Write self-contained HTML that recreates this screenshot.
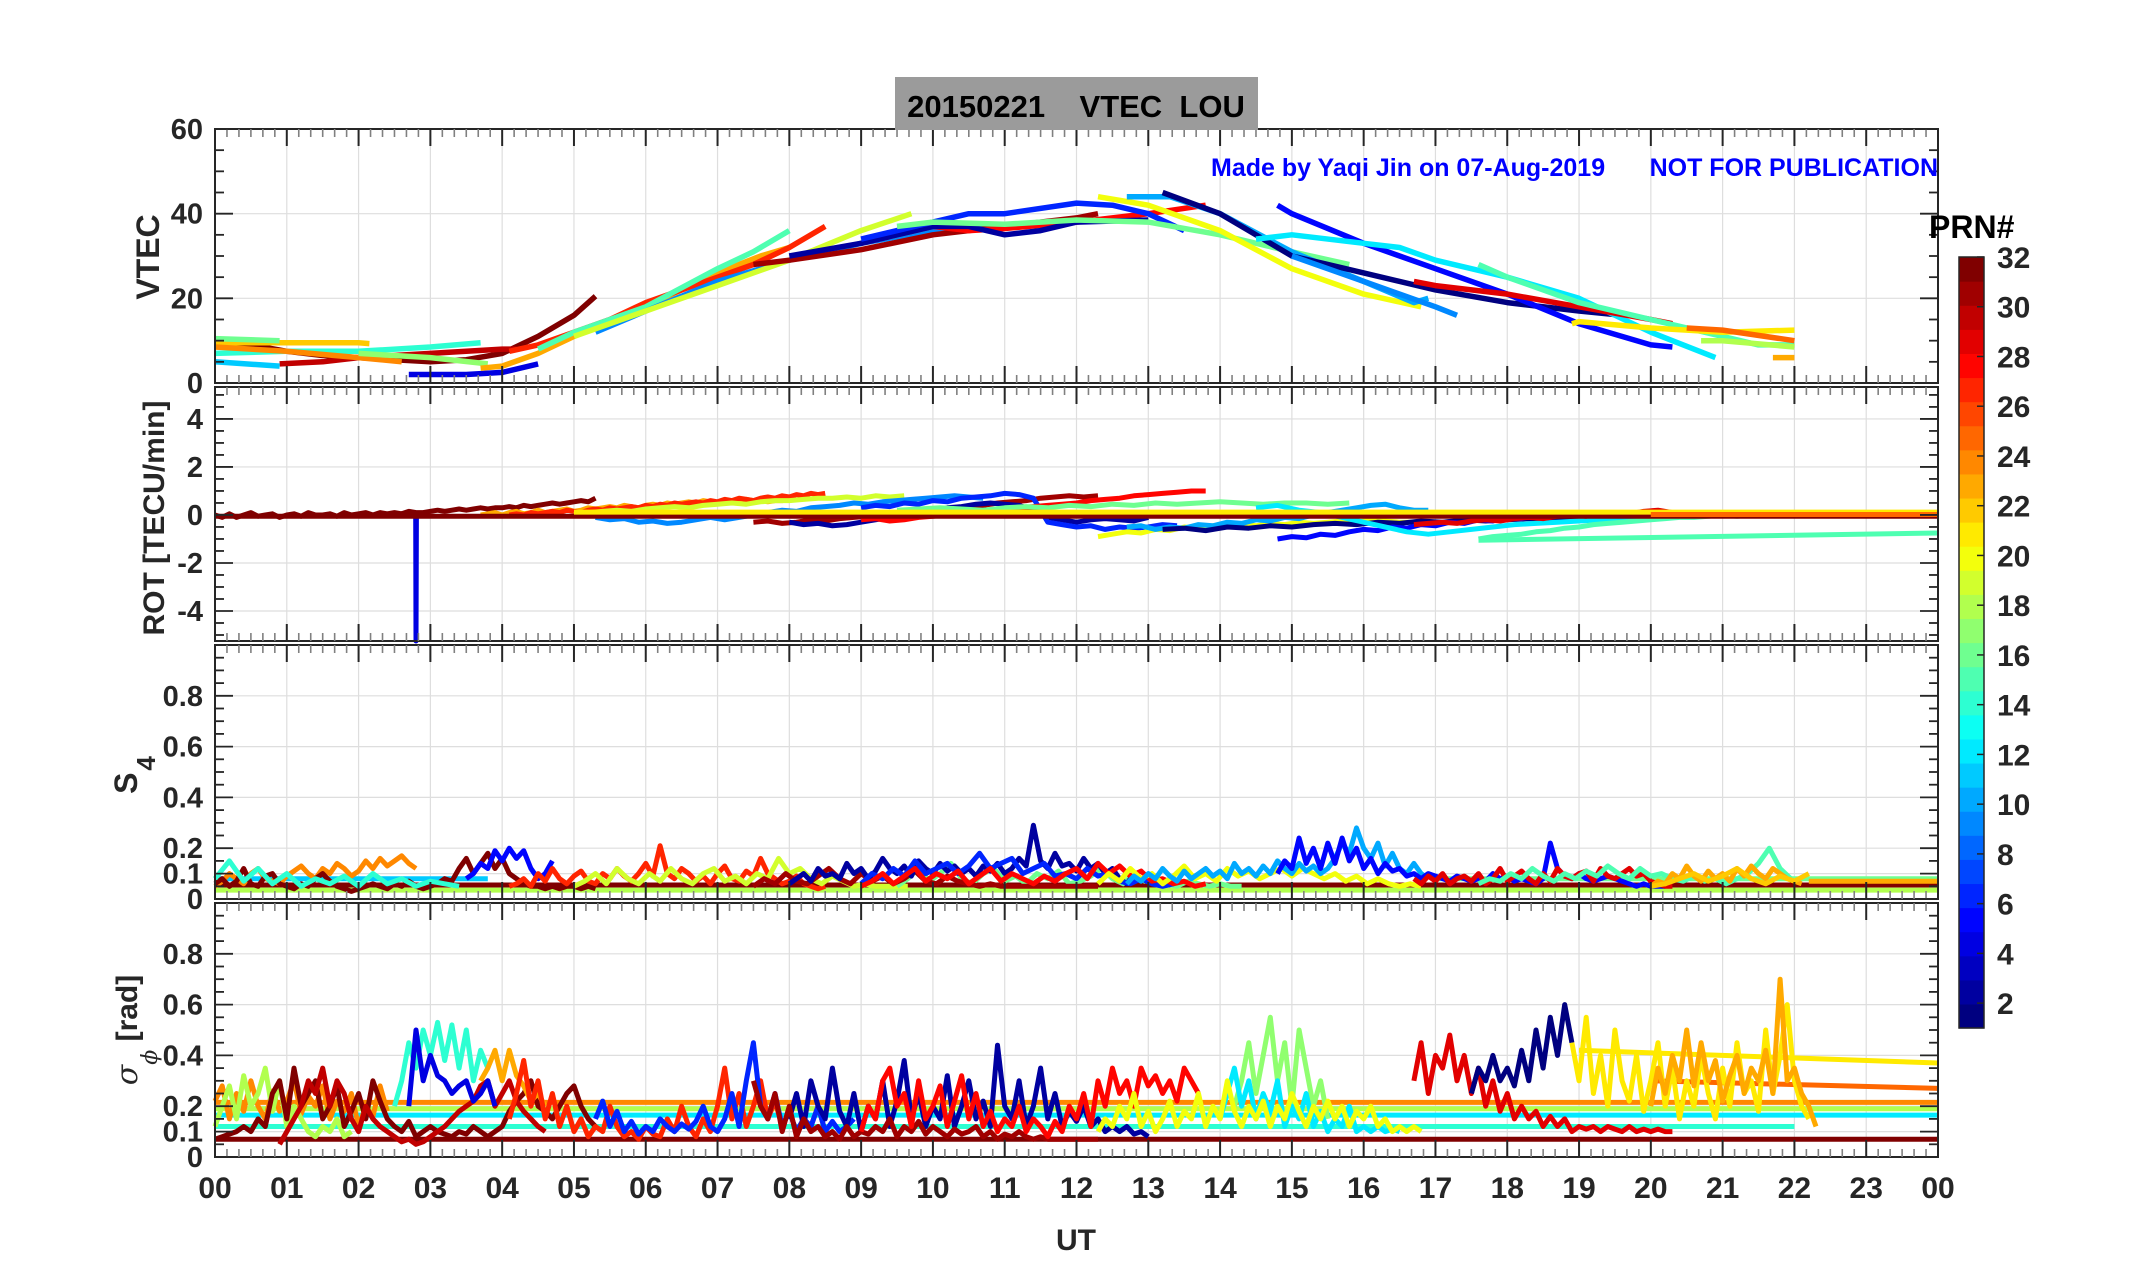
<!DOCTYPE html>
<html><head><meta charset="utf-8"><title>VTEC LOU</title>
<style>
html,body{margin:0;padding:0;background:#fff;}
svg{display:block;}
text{font-family:"Liberation Sans Narrow","Liberation Sans",Arial,sans-serif;font-weight:bold;}
.lab{font-family:"Liberation Sans",Arial,sans-serif;}
</style></head>
<body>
<svg id="chart" xmlns="http://www.w3.org/2000/svg" width="2153" height="1286" viewBox="0 0 2153 1286">
<rect x="0" y="0" width="2153" height="1286" fill="#fff"/>
<g id="grids"></g>
<g id="data"></g>
<g id="axes"></g>
<rect x="895" y="77" width="363" height="53" fill="#9b9b9b"/>
<text x="1076" y="117" text-anchor="middle" font-size="31" fill="#000" class="lab" xml:space="preserve">20150221    VTEC  LOU</text>
<text x="1211" y="176" font-size="25" fill="#0000ff">Made by Yaqi Jin on 07-Aug-2019</text>
<text x="1938" y="176" text-anchor="end" font-size="25" fill="#0000ff">NOT FOR PUBLICATION</text>
<text transform="translate(159,257) rotate(-90)" text-anchor="middle" font-size="32" class="lab" fill="#262626">VTEC</text>
<text transform="translate(164,518) rotate(-90)" text-anchor="middle" font-size="30" class="lab" fill="#262626">ROT [TECU/min]</text>
<text transform="translate(137,775) rotate(-90)" text-anchor="middle" font-size="32" class="lab" fill="#262626">S<tspan dy="18" dx="2" font-size="26">4</tspan></text>
<text transform="translate(137,1030) rotate(-90)" text-anchor="middle" font-size="30" class="lab" fill="#262626"><tspan font-family="DejaVu Serif,serif" font-style="italic" font-weight="normal">σ</tspan><tspan dy="20" font-size="22" font-family="DejaVu Serif,serif" font-style="italic" font-weight="normal">ϕ</tspan><tspan dy="-20"> [rad]</tspan></text>
<text x="1076" y="1250" text-anchor="middle" font-size="30" class="lab" fill="#262626">UT</text>
<text x="1929" y="238" font-size="32" class="lab" fill="#000">PRN#</text>
<g id="cbar"></g>
</svg>
<script>
// ---------------- DATA ----------------
const xTickLabels = ["00","01","02","03","04","05","06","07","08","09","10","11","12","13","14","15","16","17","18","19","20","21","22","23","00"];
const vtecTicks = [0,20,40,60];
const rotTicks = [-4,-2,0,2,4];
const s4Ticks = [0,0.1,0.2,0.4,0.6,0.8];
const sigTicks = [0,0.1,0.2,0.4,0.6,0.8];
const cbarTicks = [2,4,6,8,10,12,14,16,18,20,22,24,26,28,30,32];

// VTEC arcs: PRN, times (h), values (TECU)
const vtecPrn = [32,30,22,16,14,11,24,17,4,23,27,15,9,19,31,28,2,6,16,20,10,1,5,12,9,29,15,21,25,18,23];
const vtecT = [
[0,0.5,1,1.5,2,2.5,3,3.5,4,4.5,5,5.3],
[0.9,1.5,2,3,4,4.2],
[0,1,2,2.15],
[0,0.9],
[0,1,2,3,3.7],
[0,0.9],
[0,1,2,2.6],
[2,3,3.8],
[2.7,3,3.5,4,4.5],
[3.7,4,4.5,5,6,7,7.6,8],
[4.1,4.5,5,5.5,6,7,7.5,8,8.5],
[4.5,5,6,7,7.5,8.0],
[5.3,6,7,8,9,10,10.7],
[5,6,7,8,9,9.7],
[7.5,8,9,10,11,12,12.3],
[9,10,10.5,11,12,13,13.8],
[8,9,10,10.5,11,11.5,12,13],
[9,10,10.5,11,12,12.5,13,13.5],
[9.5,10,11,12,13,14,15,15.8],
[12.3,13,14,15,16,16.8],
[12.7,13.3,14,15,16,16.7,16.9],
[13.2,14,15,16,17,18,19,19.6],
[14.8,15,16,17,18,19,20,20.3],
[14.5,15,16,16.5,17,18,19,20,20.9],
[15,16,17,17.3],
[16.7,17,18,19,20,20.3],
[17.6,18,19,20,21,21.5,22],
[18.9,19,20,21,22],
[20.5,21,22],
[20.7,21,22],
[21.7,22]
];
const vtecV = [
[10,9,7.5,6.5,6,5.5,5,5.5,7,11,16,20.5],
[4.5,5,6,7,8,8],
[9.5,9.5,9.5,9.3],
[10.5,10],
[7,7.5,7.5,8.5,9.5],
[5,4],
[8.5,7.5,6,5],
[7,6,4.5],
[2,2,2,2.5,4.5],
[3.5,4,7,11,18,26,30,32],
[7.5,9,12,15,19,25,28,32,37],
[8,12,18,27,31,36],
[12,17,24,29,33,36,37.5],
[11,17,23,29,36,40],
[28,29,31.5,35,37,39,40],
[33,37,36,36.5,38,40,42],
[30,33,37,37,35,36,38,38.5],
[34,38,40,40,42.5,42,40,36],
[37,38,37.5,38.5,38,35,31,28],
[44,42,36,27,21,18],
[44,44,40,31,24,19,20],
[45,40,30,26,22,19,17,16],
[42,40,33,27,21,14,9,8.5],
[34,35,33,32,29,25,20,12,6],
[30,24,18,16],
[24,23,21,18,15,14],
[28,25,19,15,11,9,9],
[14,14.5,13,12,12.5],
[13,12.5,10],
[10,10,8.5],
[6,6]
];

// ROT series: PRN, start hour, step (h), values
const rotPrn = [32,4,23,27,19,9,31,2,6,28,16,20,10,1,5,12,29,15,15,32,21,25];
const rotStart = [0,2.795,3.7,4.1,5,5.3,7.5,8,9,9,9.5,12.3,12.7,13.2,14.8,14.5,16.7,17.6,17.6,0,5,20];
const rotStep = [0.1,0.005,0.1,0.1,0.2,0.2,0.2,0.2,0.2,0.2,0.3,0.2,0.2,0.3,0.2,0.3,0.2,0.2,6.4,24,19,4];
const rotVals = [
[0,-0.1,0.05,-0.1,0,0.1,-0.05,0,0.05,-0.1,0,0.05,-0.05,0.1,0,0,0.05,-0.05,0.1,0,0.05,0.1,0,0.1,0.05,0.1,0.05,0.15,0.1,0.1,0.15,0.2,0.15,0.2,0.25,0.2,0.25,0.3,0.25,0.3,0.3,0.35,0.3,0.4,0.35,0.4,0.45,0.5,0.45,0.5,0.55,0.6,0.55,0.7],
[0,-5.3,0],
[0,0.05,0.1,0,0.1,0.15,0.05,0.1,0.2,0.1,0.15,0.2,0.25,0.15,0.2,0.3,0.25,0.3,0.35,0.3,0.4,0.35,0.3,0.4,0.45,0.4,0.5,0.45,0.5,0.55,0.5,0.6,0.55,0.5,0.6,0.55,0.6,0.65,0.6,0.6,0.55,0.6,0.6,0.65],
[0,0.05,0,0.1,0.05,0.1,0.15,0.1,0.2,0.15,0.1,0.2,0.25,0.2,0.3,0.25,0.3,0.35,0.3,0.4,0.35,0.45,0.4,0.5,0.45,0.5,0.55,0.5,0.6,0.55,0.65,0.6,0.7,0.65,0.6,0.7,0.75,0.7,0.8,0.75,0.85,0.8,0.9,0.85,0.9],
[0,0.1,0.15,0.2,0.15,0.25,0.3,0.35,0.3,0.4,0.45,0.5,0.45,0.55,0.6,0.6,0.65,0.7,0.7,0.75,0.7,0.8,0.75,0.8],
[-0.1,-0.2,-0.15,-0.3,-0.25,-0.35,-0.3,-0.2,-0.1,-0.2,-0.1,0,0.1,0.2,0.15,0.3,0.35,0.4,0.5,0.45,0.55,0.6,0.65,0.7,0.75,0.8,0.75,0.7],
[-0.3,-0.25,-0.35,-0.3,-0.2,-0.25,-0.15,-0.1,-0.05,0,0.05,0.1,0.15,0.2,0.3,0.35,0.4,0.5,0.55,0.6,0.7,0.75,0.8,0.75,0.8],
[-0.3,-0.4,-0.35,-0.45,-0.4,-0.3,-0.2,-0.1,0,0.1,0.2,0.3,0.35,0.45,0.5,0.45,0.4,0.2,-0.1,-0.2,-0.3,-0.2,-0.15,-0.2,-0.25,-0.1],
[0.3,0.4,0.35,0.5,0.45,0.6,0.55,0.7,0.75,0.8,0.9,0.85,0.7,-0.3,-0.4,-0.5,-0.45,-0.6,-0.5,-0.55,-0.5,-0.4,-0.45],
[-0.2,-0.15,-0.25,-0.2,-0.1,-0.05,0,0.05,0.1,0.15,0.2,0.3,0.35,0.4,0.45,0.5,0.6,0.65,0.7,0.8,0.85,0.9,0.95,1.0,1.0],
[0.2,0.25,0.3,0.25,0.2,0.3,0.35,0.3,0.4,0.35,0.45,0.4,0.5,0.45,0.5,0.55,0.5,0.45,0.5,0.5,0.45,0.5],
[-0.9,-0.8,-0.7,-0.75,-0.6,-0.65,-0.5,-0.55,-0.45,-0.5,-0.4,-0.45,-0.35,-0.4,-0.3,-0.35,-0.3,-0.25,-0.3,-0.2,-0.25,-0.3,-0.3],
[-0.5,-0.45,-0.6,-0.5,-0.55,-0.4,-0.45,-0.3,-0.35,-0.2,-0.25,-0.1,-0.15,0,0.1,0.2,0.3,0.4,0.45,0.3,0.2,0.2],
[-0.6,-0.55,-0.65,-0.5,-0.55,-0.45,-0.5,-0.4,-0.35,-0.4,-0.3,-0.35,-0.25,-0.3,-0.2,-0.25,-0.2,-0.15,-0.2,-0.15,-0.2,-0.15],
[-1.0,-0.9,-0.95,-0.8,-0.85,-0.7,-0.6,-0.65,-0.5,-0.55,-0.4,-0.45,-0.3,-0.35,-0.2,-0.25,-0.1,-0.15,0,-0.05,0.05,0.1,0.05,0,0.1,0.05,0],
[0.3,0.4,0.2,0.1,-0.1,-0.3,-0.5,-0.7,-0.8,-0.7,-0.6,-0.5,-0.4,-0.35,-0.3,-0.25,-0.2,-0.15,-0.1,-0.1,0,0,0.05],
[-0.4,-0.35,-0.3,-0.35,-0.25,-0.2,-0.25,-0.15,-0.1,-0.15,-0.05,0,-0.05,0.05,0.1,0.05,0.15,0.2,0.1],
[-1.0,-0.9,-0.85,-0.8,-0.7,-0.65,-0.55,-0.5,-0.4,-0.35,-0.3,-0.25,-0.2,-0.15,-0.1,-0.1,-0.05,0,-0.05,0,0,0.05,0],
[-1.05,-0.75],
[-0.05,-0.05],
[0.12,0.12],
[0.02,0.02]
];

// S4 series: PRN, start hour, step (h), values
const s4Prn = [32,18,16,11,23,24,32,14,5,27,19,16,31,2,6,28,20,10,5,29,15,23,22];
const s4Start = [0,0,17,0,22.2,0,0,0,3.5,4.1,5,9.5,7.5,8,9,9,12.3,12.7,14.8,16.7,17.6,20,20];
const s4Step = [24,24,7,3.8,1.8,0.1,0.1,0.2,0.1,0.1,0.15,0.15,0.15,0.1,0.15,0.15,0.15,0.1,0.1,0.1,0.15,0.1,0.2];
const s4Vals = [
[0.055,0.055],
[0.035,0.035],
[0.08,0.08],
[0.08,0.08],
[0.07,0.07],
[0.05,0.07,0.1,0.08,0.06,0.1,0.12,0.08,0.07,0.06,0.09,0.11,0.13,0.1,0.08,0.12,0.1,0.14,0.12,0.09,0.11,0.15,0.12,0.16,0.13,0.15,0.17,0.14,0.12],
[0.06,0.08,0.05,0.07,0.12,0.06,0.05,0.09,0.1,0.06,0.05,0.04,0.06,0.05,0.08,0.1,0.07,0.05,0.04,0.03,0.04,0.05,0.06,0.05,0.04,0.06,0.05,0.07,0.05,0.04,0.05,0.06,0.08,0.07,0.12,0.16,0.1,0.14,0.18,0.12,0.16,0.1,0.08,0.06,0.05,0.05,0.04,0.05,0.04,0.05,0.05,0.04,0.05,0.04],
[0.08,0.15,0.07,0.12,0.06,0.1,0.05,0.08,0.06,0.09,0.05,0.1,0.06,0.08,0.05,0.07,0.06,0.05],
[0.08,0.1,0.14,0.12,0.19,0.15,0.2,0.16,0.19,0.12,0.08,0.1,0.15],
[0.05,0.06,0.08,0.05,0.1,0.07,0.12,0.08,0.06,0.09,0.11,0.07,0.06,0.1,0.08,0.12,0.09,0.07,0.1,0.14,0.09,0.21,0.1,0.08,0.12,0.1,0.07,0.09,0.06,0.1,0.13,0.08,0.07,0.11,0.09,0.16,0.1,0.08,0.06,0.07,0.09,0.06,0.05,0.04,0.05],
[0.05,0.07,0.1,0.06,0.12,0.08,0.06,0.1,0.07,0.12,0.08,0.06,0.1,0.12,0.07,0.09,0.06,0.1,0.08,0.16,0.1,0.12,0.08,0.06,0.09,0.07,0.05,0.06,0.05,0.05,0.05,0.05],
[0.05,0.08,0.12,0.07,0.1,0.14,0.08,0.06,0.1,0.12,0.07,0.09,0.06,0.1,0.08,0.11,0.06,0.07,0.09,0.12,0.08,0.06,0.1,0.07,0.08,0.06,0.05,0.07,0.06,0.05,0.06,0.05,0.05],
[0.05,0.08,0.06,0.1,0.07,0.06,0.09,0.12,0.08,0.06,0.1,0.07,0.09,0.06,0.08,0.11,0.07,0.06,0.09,0.07,0.06,0.05,0.06,0.05,0.05,0.05,0.05,0.05,0.05,0.05,0.05,0.05,0.05],
[0.06,0.08,0.1,0.07,0.12,0.09,0.1,0.08,0.14,0.1,0.12,0.08,0.11,0.16,0.12,0.1,0.13,0.09,0.15,0.12,0.1,0.14,0.11,0.13,0.1,0.12,0.09,0.13,0.11,0.14,0.1,0.12,0.16,0.13,0.29,0.15,0.12,0.18,0.13,0.14,0.11,0.16,0.12,0.14,0.1,0.12,0.08,0.06,0.1,0.07],
[0.06,0.1,0.08,0.12,0.09,0.15,0.1,0.12,0.14,0.1,0.13,0.18,0.12,0.14,0.16,0.1,0.12,0.14,0.09,0.1,0.08,0.12,0.09,0.1,0.07,0.06,0.08,0.06,0.05,0.06],
[0.05,0.07,0.1,0.06,0.09,0.12,0.07,0.1,0.08,0.11,0.06,0.09,0.12,0.07,0.1,0.08,0.06,0.09,0.07,0.1,0.12,0.08,0.14,0.1,0.13,0.09,0.11,0.07,0.08,0.06,0.07,0.05,0.06],
[0.06,0.1,0.07,0.12,0.08,0.1,0.06,0.09,0.13,0.08,0.1,0.07,0.12,0.09,0.11,0.08,0.1,0.12,0.09,0.12,0.1,0.08,0.1,0.07,0.09,0.06,0.08,0.06,0.05,0.06,0.05],
[0.06,0.09,0.07,0.1,0.08,0.12,0.09,0.07,0.11,0.08,0.1,0.12,0.09,0.11,0.08,0.14,0.1,0.12,0.09,0.13,0.1,0.15,0.12,0.1,0.14,0.11,0.13,0.1,0.12,0.16,0.22,0.18,0.28,0.2,0.16,0.22,0.13,0.18,0.12,0.1,0.14,0.1,0.08],
[0.1,0.15,0.12,0.24,0.14,0.2,0.12,0.22,0.14,0.24,0.15,0.2,0.12,0.16,0.1,0.14,0.11,0.12,0.09,0.1,0.08,0.1,0.09,0.08,0.07,0.09,0.08,0.07,0.08,0.07,0.1,0.08,0.09,0.07,0.08,0.07,0.06,0.08,0.22,0.12,0.09,0.08,0.1,0.08,0.07,0.08,0.09,0.08,0.07,0.06,0.05,0.06,0.05,0.05,0.05],
[0.08,0.06,0.09,0.07,0.1,0.06,0.08,0.09,0.07,0.1,0.06,0.08,0.12,0.07,0.09,0.11,0.08,0.06,0.1,0.07,0.12,0.09,0.08,0.1,0.11,0.07,0.12,0.09,0.08,0.1,0.12,0.09,0.1,0.07,0.06,0.05,0.05],
[0.06,0.08,0.07,0.1,0.08,0.12,0.09,0.07,0.1,0.08,0.11,0.09,0.13,0.1,0.08,0.12,0.09,0.1,0.08,0.07,0.09,0.07,0.08,0.06,0.08,0.1,0.14,0.2,0.12,0.08],
[0.05,0.07,0.06,0.1,0.08,0.13,0.09,0.07,0.11,0.08,0.1,0.07,0.12,0.09,0.13,0.1,0.08,0.12,0.1,0.08,0.07,0.06],
[0.05,0.06,0.08,0.1,0.07,0.09,0.12,0.08,0.06,0.09,0.07,0.1]
];

// Sigma-phi series: PRN, start hour, step (h), values
const sigPrn = [32,24,18,12,14,21,25,24,18,32,30,14,4,23,27,6,2,31,28,17,12,20,29,1,21,23];
const sigStart = [0,0,0,0,0,19,20,0,0,0,0.9,2.5,2.7,3.7,4.1,5.3,8,7.5,9,14.2,14,12.3,16.7,17.5,18.9,20];
const sigStep = [24,24,24,24,22,5,4,0.1,0.1,0.1,0.1,0.1,0.1,0.1,0.1,0.1,0.1,0.1,0.1,0.1,0.1,0.1,0.1,0.1,0.1,0.1];
const sigVals = [
[0.07,0.07],
[0.215,0.215],
[0.19,0.19],
[0.165,0.165],
[0.12,0.12],
[0.42,0.37],
[0.3,0.27],
[0.22,0.28,0.15,0.25,0.18,0.3,0.2,0.15,0.26,0.18,0.22,0.3,0.17,0.24,0.2,0.28,0.15,0.22,0.18,0.25,0.12,0.2,0.16,0.28,0.18],
[0.12,0.2,0.28,0.15,0.32,0.2,0.25,0.35,0.18,0.3,0.12,0.2,0.15,0.1,0.08,0.12,0.1,0.15,0.08,0.1],
[0.07,0.08,0.09,0.1,0.12,0.1,0.15,0.12,0.25,0.3,0.15,0.35,0.2,0.25,0.3,0.15,0.2,0.28,0.12,0.18,0.25,0.15,0.3,0.22,0.15,0.12,0.1,0.14,0.08,0.1,0.12,0.1,0.09,0.08,0.1,0.09,0.12,0.1,0.08,0.1,0.12,0.18,0.22,0.25,0.3,0.2,0.18,0.15,0.2,0.25,0.28,0.2,0.15,0.12],
[0.05,0.1,0.15,0.2,0.3,0.25,0.35,0.2,0.3,0.25,0.15,0.1,0.2,0.15,0.12,0.1,0.08,0.06,0.07,0.05,0.06,0.08,0.1,0.12,0.15,0.18,0.2,0.22,0.28,0.3,0.2,0.25,0.3,0.22,0.18,0.15,0.12,0.1],
[0.2,0.3,0.45,0.35,0.5,0.4,0.53,0.38,0.52,0.35,0.5,0.3,0.42,0.35],
[0.2,0.5,0.3,0.4,0.32,0.3,0.25,0.28,0.3,0.22,0.25,0.3,0.2],
[0.3,0.35,0.42,0.3,0.42,0.32,0.28,0.22,0.25,0.2],
[0.15,0.25,0.38,0.2,0.3,0.15,0.25,0.12,0.2,0.1,0.15,0.08,0.12,0.1,0.2,0.12,0.08,0.1,0.07,0.12,0.09,0.08,0.15,0.1,0.2,0.12,0.08,0.15,0.1,0.2,0.35,0.15,0.25,0.12,0.2,0.3,0.15,0.22,0.12,0.18,0.1,0.15,0.12,0.2,0.1],
[0.15,0.22,0.12,0.18,0.1,0.14,0.09,0.12,0.1,0.15,0.12,0.1,0.13,0.11,0.14,0.2,0.12,0.1,0.15,0.25,0.12,0.3,0.45,0.2,0.15,0.25,0.12,0.18,0.1,0.15,0.12,0.2,0.1,0.14,0.1,0.12,0.15],
[0.15,0.25,0.12,0.3,0.2,0.15,0.35,0.18,0.12,0.25,0.1,0.2,0.15,0.3,0.12,0.22,0.38,0.15,0.25,0.12,0.2,0.15,0.32,0.12,0.2,0.3,0.15,0.22,0.12,0.44,0.2,0.15,0.3,0.12,0.2,0.35,0.15,0.25,0.12,0.18,0.14,0.2,0.12,0.15,0.1,0.12,0.1,0.12,0.09,0.1,0.08],
[0.3,0.2,0.15,0.25,0.1,0.2,0.08,0.15,0.1,0.12,0.08,0.1,0.07,0.12,0.08,0.1,0.09,0.12,0.1,0.15,0.08,0.12,0.1,0.14,0.09,0.12,0.1,0.08,0.11,0.09,0.1,0.12,0.08,0.1,0.07,0.09,0.08,0.1,0.08,0.07,0.08,0.07,0.07,0.07,0.07,0.07,0.07,0.07,0.07],
[0.1,0.2,0.15,0.3,0.35,0.2,0.25,0.12,0.3,0.15,0.2,0.28,0.12,0.22,0.32,0.15,0.25,0.12,0.18,0.1,0.15,0.12,0.2,0.1,0.15,0.12,0.08,0.14,0.1,0.2,0.15,0.25,0.12,0.3,0.2,0.35,0.25,0.3,0.2,0.35,0.28,0.32,0.25,0.3,0.22,0.35,0.3,0.25],
[0.2,0.3,0.45,0.25,0.4,0.55,0.3,0.45,0.2,0.5,0.35,0.2,0.3,0.15],
[0.15,0.25,0.35,0.2,0.3,0.15,0.25,0.18,0.3,0.12,0.2,0.15,0.25,0.12,0.18,0.1,0.15,0.12,0.2,0.1,0.12,0.1,0.12,0.1,0.11,0.1],
[0.1,0.15,0.12,0.2,0.15,0.25,0.12,0.18,0.1,0.15,0.22,0.12,0.18,0.15,0.25,0.12,0.2,0.15,0.3,0.18,0.12,0.2,0.15,0.22,0.12,0.2,0.15,0.25,0.18,0.12,0.2,0.15,0.22,0.15,0.2,0.12,0.18,0.15,0.2,0.12,0.15,0.1,0.12,0.1,0.12,0.1],
[0.3,0.45,0.25,0.4,0.35,0.48,0.3,0.4,0.25,0.35,0.2,0.3,0.18,0.25,0.15,0.2,0.15,0.18,0.12,0.16,0.12,0.15,0.1,0.12,0.11,0.12,0.1,0.12,0.11,0.1,0.12,0.1,0.11,0.1,0.11,0.1,0.1],
[0.25,0.35,0.3,0.4,0.3,0.35,0.28,0.42,0.3,0.5,0.35,0.55,0.4,0.6,0.45],
[0.45,0.3,0.55,0.25,0.4,0.2,0.5,0.3,0.22,0.4,0.18,0.3,0.45,0.2,0.35,0.15,0.3,0.2,0.4,0.25,0.15,0.35,0.2,0.45,0.25,0.3,0.18,0.5,0.25,0.4,0.6,0.3,0.2,0.15],
[0.2,0.35,0.25,0.4,0.3,0.5,0.28,0.45,0.3,0.38,0.22,0.32,0.4,0.25,0.35,0.3,0.42,0.25,0.7,0.3,0.35,0.25,0.2,0.12]
];

// ---------------- RENDER ----------------
const NS = "http://www.w3.org/2000/svg";
const X0 = 215, X1 = 1938;
const panels = [
  {name:"vtec", top:129, bottom:383, ymin:0, ymax:60, ticks:vtecTicks, minor:5, fmt:v=>String(v)},
  {name:"rot", top:387, bottom:641, ymin:-5.25, ymax:5.33, ticks:rotTicks, minor:0.5, fmt:v=>String(v)},
  {name:"s4", top:645, bottom:899, ymin:0, ymax:1, ticks:s4Ticks, minor:0.05, fmt:v=>v===0?"0":v.toFixed(1)},
  {name:"sigma", top:903, bottom:1157, ymin:0, ymax:1, ticks:sigTicks, minor:0.05, fmt:v=>v===0?"0":v.toFixed(1)}
];
function xs(h){ return X0 + h/24*(X1-X0); }
function ys(p,v){ return p.bottom - (v-p.ymin)/(p.ymax-p.ymin)*(p.bottom-p.top); }
function jet(prn){
  const t=(prn-1)/31;
  const r=Math.min(Math.max(1.5-Math.abs(4*t-3),0),1);
  const g=Math.min(Math.max(1.5-Math.abs(4*t-2),0),1);
  const b=Math.min(Math.max(1.5-Math.abs(4*t-1),0),1);
  return "rgb("+Math.round(r*255)+","+Math.round(g*255)+","+Math.round(b*255)+")";
}
const gGrid=document.getElementById("grids"), gData=document.getElementById("data"), gAx=document.getElementById("axes"), gC=document.getElementById("cbar");
function mk(tag,attrs,parent){ const e=document.createElementNS(NS,tag); for(const k in attrs) e.setAttribute(k,attrs[k]); parent.appendChild(e); return e; }

panels.forEach((p,pi)=>{
  for(let h=1;h<24;h++){
    const gl=mk("line",{x1:xs(h),x2:xs(h),y1:p.top,y2:p.bottom,stroke:"#dedede","stroke-width":1.2},gGrid);
    
    
  }
  p.ticks.forEach(v=>{
    const gl=mk("line",{x1:X0,x2:X1,y1:ys(p,v),y2:ys(p,v),stroke:"#dedede","stroke-width":1.2},gGrid);
    
    
  });
  const fr=mk("rect",{x:X0,y:p.top,width:X1-X0,height:p.bottom-p.top,fill:"none",stroke:"#262626","stroke-width":2},gAx);
  
  
  for(let m=0;m<=144;m++){
    const maj=(m%6===0), L=maj?17:8, x=xs(m/6), col=maj?"#262626":"#808080";
    mk("line",{x1:x,x2:x,y1:p.top,y2:p.top+L,stroke:col,"stroke-width":maj?2:1.6},gAx);
    mk("line",{x1:x,x2:x,y1:p.bottom,y2:p.bottom-L,stroke:col,"stroke-width":maj?2:1.6},gAx);
  }
  const start=Math.ceil(p.ymin/p.minor-1e-9)*p.minor;
  for(let v=start; v<=p.ymax+1e-9; v+=p.minor){
    const vv=Math.round(v*1000)/1000;
    const maj=p.ticks.some(t=>Math.abs(t-vv)<1e-6);
    const L=maj?18:9, y=ys(p,vv);
    mk("line",{x1:X0,x2:X0+L,y1:y,y2:y,stroke:"#262626","stroke-width":1.8},gAx);
    mk("line",{x1:X1,x2:X1-L,y1:y,y2:y,stroke:"#262626","stroke-width":1.8},gAx);
  }
  p.ticks.forEach(v=>{
    const t=mk("text",{x:203,y:ys(p,v)+10,"text-anchor":"end","font-size":29,fill:"#262626"},gAx);
    t.textContent=p.fmt(v);
    
    
  });
});
xTickLabels.forEach((s,i)=>{
  const t=mk("text",{x:xs(i),y:1198,"text-anchor":"middle","font-size":30,fill:"#262626"},gAx);
  t.textContent=s;
  
  
});

function drawLine(p,pts,prn,w,name){
  const clip=pts.map(q=>[xs(q[0]),Math.max(p.top,Math.min(p.bottom,ys(p,q[1])))]);
  const d="M"+clip.map(q=>q[0].toFixed(1)+","+q[1].toFixed(1)).join("L");
  const e=mk("path",{d:d,fill:"none",stroke:jet(prn),"stroke-width":w,"stroke-linejoin":"round","stroke-linecap":"butt"},gData);
  
  
}
vtecPrn.forEach((prn,i)=>{
  drawLine(panels[0], vtecT[i].map((t,j)=>[t,vtecV[i][j]]), prn, 5.5, 'vtec-arc-prn'+prn);
});
function drawStep(p,prns,starts,steps,vals,w,label){
  prns.forEach((prn,i)=>{
    const pts=vals[i].map((v,j)=>[starts[i]+j*steps[i],v]);
    drawLine(p,pts,prn,w,label+'-prn'+prn);
  });
}
drawStep(panels[1],rotPrn,rotStart,rotStep,rotVals,5,'rot-series');
drawStep(panels[2],s4Prn,s4Start,s4Step,s4Vals,5,'s4-series');
drawStep(panels[3],sigPrn,sigStart,sigStep,sigVals,5,'sigma-series');

const CB={x:1959,w:25,top:257,bottom:1028};
for(let k=1;k<=32;k++){
  const h=(CB.bottom-CB.top)/32;
  const r=mk("rect",{x:CB.x,y:CB.bottom-k*h,width:CB.w,height:h+0.6,fill:jet(k)},gC);
  
  
}
mk("rect",{x:CB.x,y:CB.top,width:CB.w,height:CB.bottom-CB.top,fill:"none",stroke:"#262626","stroke-width":1.5},gC);
cbarTicks.forEach(v=>{
  const y=CB.bottom-(v-1)/31*(CB.bottom-CB.top);
  mk("line",{x1:CB.x+CB.w-7,x2:CB.x+CB.w,y1:y,y2:y,stroke:"#262626","stroke-width":1.5},gC);
  const t=mk("text",{x:1997,y:y+11,"font-size":30,fill:"#262626"},gC);
  t.textContent=String(v);
  
  
});
</script>
</body></html>
